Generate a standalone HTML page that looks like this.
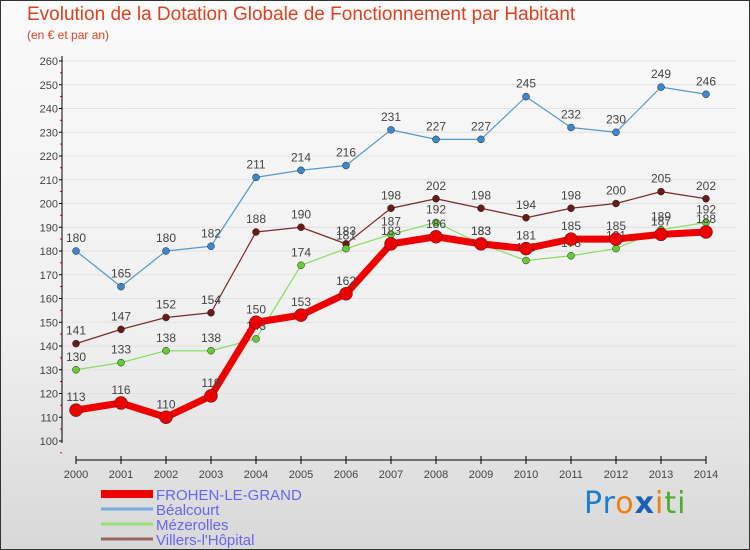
<!DOCTYPE html>
<html><head><meta charset="utf-8"><style>
body{margin:0;}
#wrap{position:relative;width:748px;height:548px;border:1px solid #333;background:linear-gradient(#fafafa,#f0f0f0 60%,#d8d8d8);font-family:"Liberation Sans",sans-serif;overflow:hidden}
.t{position:absolute;white-space:nowrap}
</style></head><body>
<div id="wrap">
<div class="t" style="left:26px;top:3px;font-size:19px;color:#d9431f">Evolution de la Dotation Globale de Fonctionnement par Habitant</div>
<div class="t" style="left:26px;top:27px;font-size:12px;color:#d9431f">(en € et par an)</div>
<svg id="svg" width="748" height="548" style="position:absolute;left:0;top:0"></svg>
<div class="t" style="left:583px;top:485px;font-size:30px;font-family:'DejaVu Sans',sans-serif;letter-spacing:1px"><span style="color:#1a7fd0">Pr</span><span style="color:#f07d10">o</span><span style="color:#1a5fb0;font-weight:bold">x</span><span style="color:#f07d10">i</span><span style="color:#4cae2a">ti</span></div>
</div>
<script>
const years=[2000,2001,2002,2003,2004,2005,2006,2007,2008,2009,2010,2011,2012,2013,2014];
const frohen=[113,116,110,119,150,153,162,183,186,183,181,185,185,187,188];
const bealcourt=[180,165,180,182,211,214,216,231,227,227,245,232,230,249,246];
const mezerolles=[130,133,138,138,143,174,181,187,192,183,176,178,181,189,192];
const villers=[141,147,152,154,188,190,183,198,202,198,194,198,200,205,202];
const yTicks=[100,110,120,130,140,150,160,170,180,190,200,210,220,230,240,250,260];
const seriesNames=["FROHEN-LE-GRAND","Béalcourt","Mézerolles","Villers-l'Hôpital"];
const NS="http://www.w3.org/2000/svg",svg=document.getElementById('svg');
const X=i=>75+i*45, Y=v=>440-(v-100)*2.375;
function mk(t,a,p){const e=document.createElementNS(NS,t);for(const k in a)e.setAttribute(k,a[k]);(p||svg).appendChild(e);return e;}
// grid & axes
yTicks.forEach(v=>{
 const g=mk('line',{x1:61,x2:735,y1:Y(v),y2:Y(v),stroke:'#e2e2e2'});
 
 
 const t=mk('text',{x:57,y:Y(v)+4,'text-anchor':'end','font-size':11,fill:'#444'});t.textContent=v;
 
 
 mk('line',{x1:58,x2:61,y1:Y(v),y2:Y(v),stroke:'#000'});
 mk('line',{x1:59,x2:61,y1:Y(v)+11.8,y2:Y(v)+11.8,stroke:'#e00'});
});
mk('line',{x1:61,x2:61,y1:55,y2:442,stroke:'#000'});
mk('line',{x1:75,x2:705,y1:459,y2:459,stroke:'#000'});
years.forEach((y,i)=>{
 mk('line',{x1:X(i),x2:X(i),y1:455,y2:463,stroke:'#000'});
 const t=mk('text',{x:X(i),y:477,'text-anchor':'middle','font-size':11,fill:'#444'});t.textContent=y;
 
 
});
function series(data,color,dot,w,r,name){
 const g=mk('g',{});
 
 
 mk('polyline',{points:data.map((v,i)=>X(i)+','+Y(v)).join(' '),fill:'none',stroke:color,'stroke-width':w,'stroke-linejoin':'round'},g);
 data.forEach((v,i)=>{
  const c=mk('circle',{cx:X(i),cy:Y(v),r:r,fill:dot,stroke:'#222','stroke-width':0.5},g);
  
  
  const t=mk('text',{x:X(i),y:Y(v)-9,'text-anchor':'middle','font-size':12,fill:'#444'},g);t.textContent=v;
  
  
 });
}
series(bealcourt,'#5599cc','#3b88cc',1.2,3.5,'series-bealcourt');
series(villers,'#7a2a2a','#6b1a1a',1.2,3.5,'series-villers');
series(mezerolles,'#88dd66','#66cc33',1.2,3.5,'series-mezerolles');
series(frohen,'#ee0000','#ee0000',7,6.5,'series-frohen');
const lc=['#ee0000','#77aadd','#99dd77','#996666'],lw=[8,3,3,3];
seriesNames.forEach((n,i)=>{
 const y=493+i*15;
 const l=mk('line',{x1:100,x2:152,y1:y,y2:y,stroke:lc[i],'stroke-width':lw[i]});
 
 
 const t=mk('text',{x:155,y:y+6,'font-size':15,fill:'#6666ee'});t.textContent=n;
 
 
});
</script>
</body></html>
